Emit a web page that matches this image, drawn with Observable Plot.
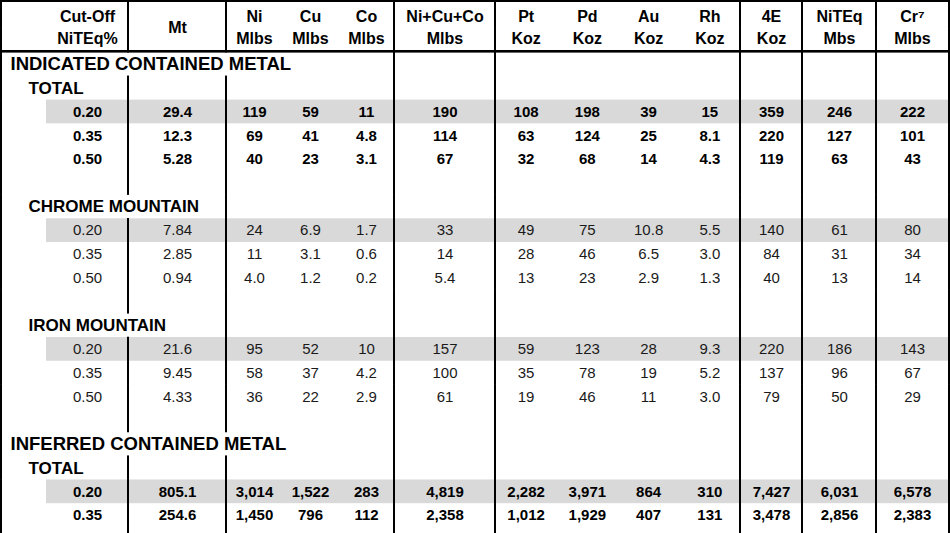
<!DOCTYPE html>
<html>
<head>
<meta charset="utf-8">
<script src="https://cdn.jsdelivr.net/npm/d3@7"></script>
<script src="https://cdn.jsdelivr.net/npm/@observablehq/plot@0.6"></script>
<style>
  html, body { margin: 0; padding: 0; background: #fff; }
  #chart svg { display: block; }
</style>
</head>
<body>
<div id="chart"></div>
<script>
// ---------- DATA ----------
const headerTop    = ["Cut-Off", "Mt", "Ni", "Cu", "Co", "Ni+Cu+Co", "Pt", "Pd", "Au", "Rh", "4E", "NiTEq", "Cr⁷"];
const headerBottom = ["NiTEq%", "", "Mlbs", "Mlbs", "Mlbs", "Mlbs", "Koz", "Koz", "Koz", "Koz", "Koz", "Mbs", "Mlbs"];
const cutoffs = ["0.20", "0.35", "0.50"];

// Mt, Ni, Cu, Co, Ni+Cu+Co, Pt, Pd, Au, Rh, 4E, NiTEq, Cr
const indicatedTotal = [
  ["29.4", "119", "59", "11", "190", "108", "198", "39", "15", "359", "246", "222"],
  ["12.3", "69", "41", "4.8", "114", "63", "124", "25", "8.1", "220", "127", "101"],
  ["5.28", "40", "23", "3.1", "67", "32", "68", "14", "4.3", "119", "63", "43"]
];
const indicatedChrome = [
  ["7.84", "24", "6.9", "1.7", "33", "49", "75", "10.8", "5.5", "140", "61", "80"],
  ["2.85", "11", "3.1", "0.6", "14", "28", "46", "6.5", "3.0", "84", "31", "34"],
  ["0.94", "4.0", "1.2", "0.2", "5.4", "13", "23", "2.9", "1.3", "40", "13", "14"]
];
const indicatedIron = [
  ["21.6", "95", "52", "10", "157", "59", "123", "28", "9.3", "220", "186", "143"],
  ["9.45", "58", "37", "4.2", "100", "35", "78", "19", "5.2", "137", "96", "67"],
  ["4.33", "36", "22", "2.9", "61", "19", "46", "11", "3.0", "79", "50", "29"]
];
const inferredTotal = [
  ["805.1", "3,014", "1,522", "283", "4,819", "2,282", "3,971", "864", "310", "7,427", "6,031", "6,578"],
  ["254.6", "1,450", "796", "112", "2,358", "1,012", "1,929", "407", "131", "3,478", "2,856", "2,383"]
];
const sectionTitles = ["INDICATED CONTAINED METAL", "INFERRED CONTAINED METAL"];
const groupNames = [["TOTAL", "CHROME MOUNTAIN", "IRON MOUNTAIN"], ["TOTAL"]];
const groupValues = [[indicatedTotal, indicatedChrome, indicatedIron], [inferredTotal]];
const groupBold = [[true, false, false], [true]];

// ---------- LAYOUT ----------
const layout = {
  width: 950, height: 533,
  rowH: 23.74, firstRowCenter: 64,
  colEdges: [46, 128, 226, 282, 338, 394, 495, 556.25, 617.5, 678.75, 740, 802, 876, 948],
  dividers: [1, 128, 226, 394, 495, 740, 802, 876, 949],
  lineW: 2,
  topLine: [0, 2], headLine: [50, 52.6],
  bandLeft: 46, bandRight: 948,
  titleX: 10, groupX: 28,
  titleSize: 18.5, groupSize: 17, headSize: 16, valueSize: 15,
  font: "'Liberation Sans', Arial, Helvetica, sans-serif",
  ink: "#000", band: "#d9d9d9"
};
const centers = d3.pairs(layout.colEdges).map(([a, b]) => (a + b) / 2);

// ---------- BUILD TABLE ROWS ----------
const cells = [];      // {row, col, text, bold}
const labels = [];     // {row, text, kind}
const shaded = [];     // row ids
let r = 0;
sectionTitles.forEach((title, s) => {
  if (s > 0) r++; // blank row before a new section
  labels.push({row: "r" + r, text: title, kind: "title"}); r++;
  groupNames[s].forEach((name, g) => {
    if (g > 0) r++; // blank row between groups
    labels.push({row: "r" + r, text: name, kind: "group"}); r++;
    groupValues[s][g].forEach((vals, k) => {
      const row = "r" + r;
      if (k === 0) shaded.push(row);
      cells.push({row, col: 0, text: cutoffs[k], bold: groupBold[s][g]});
      vals.forEach((v, j) => cells.push({row, col: j + 1, text: v, bold: groupBold[s][g]}));
      r++;
    });
  });
});
const rowIds = ["h1", "h2", ...d3.range(r + 1).map(i => "r" + i)];
const rowH = layout.rowH;
const yTop = layout.firstRowCenter - 2.5 * rowH;   // top of first header band

// measure label widths to hide dividers under overflowing labels (spreadsheet style)
const ctx = document.createElement("canvas").getContext("2d");
const labelFont = k => k === "title" ? layout.titleSize : layout.groupSize;
const hidden = new Set();
labels.forEach(l => {
  ctx.font = `bold ${labelFont(l.kind)}px ${layout.font}`;
  const x0 = l.kind === "title" ? layout.titleX : layout.groupX;
  const x1 = x0 + ctx.measureText(l.text).width;
  layout.dividers.forEach(x => { if (x > x0 - 2 && x < x1 + 2) hidden.add(x + "|" + l.row); });
});
const segments = [];
layout.dividers.forEach(x => rowIds.forEach(row => {
  if (!hidden.has(x + "|" + row)) segments.push({x, row});
}));

const headers = headerTop.map((t, i) => ({col: i, top: t, bottom: headerBottom[i]}));
const hw = layout.lineW / 2;

const plot = Plot.plot({
  width: layout.width,
  height: layout.height,
  margin: 0,
  x: {type: "linear", domain: [0, layout.width], range: [0, layout.width], axis: null},
  y: {type: "band", domain: rowIds, range: [yTop, yTop + rowIds.length * rowH], padding: 0, round: false, axis: null},
  style: {fontFamily: layout.font, background: "#fff", color: layout.ink, overflow: "hidden"},
  marks: [
    // shaded 0.20 rows
    Plot.barX(shaded, {x1: layout.bandLeft, x2: layout.bandRight, y: d => d, fill: layout.band}),
    // vertical dividers (one segment per row band)
    Plot.barX(segments.filter(d => d.row !== "h1"), {x1: d => d.x - hw, x2: d => d.x + hw, y: "row", fill: layout.ink, insetTop: -0.3, insetBottom: -0.3}),
    Plot.barX(segments.filter(d => d.row === "h1"), {x1: d => d.x - hw, x2: d => d.x + hw, y: "row", fill: layout.ink, insetTop: layout.topLine[0] - yTop, insetBottom: -0.3}),
    // top border and header underline
    Plot.barX(["h1"], {x1: 0, x2: layout.width, y: d => d, fill: layout.ink,
      insetTop: layout.topLine[0] - yTop, insetBottom: yTop + rowH - layout.topLine[1]}),
    Plot.barX(["h2"], {x1: 0, x2: layout.width, y: d => d, fill: layout.ink,
      insetTop: layout.headLine[0] - (yTop + rowH), insetBottom: yTop + 2 * rowH - layout.headLine[1]}),
    // headers
    Plot.text(headers.filter(d => d.bottom !== ""), {x: d => centers[d.col], y: () => "h1", text: "top", fontWeight: "bold", fontSize: layout.headSize}),
    Plot.text(headers.filter(d => d.bottom !== ""), {x: d => centers[d.col], y: () => "h2", text: "bottom", fontWeight: "bold", fontSize: layout.headSize, dy: -2}),
    Plot.text(headers.filter(d => d.bottom === ""), {x: d => centers[d.col], y: () => "h1", text: "top", fontWeight: "bold", fontSize: layout.headSize, dy: rowH / 2 - 1}),
    // section and group labels
    Plot.text(labels.filter(d => d.kind === "title"), {x: layout.titleX, y: "row", text: "text", textAnchor: "start", fontWeight: "bold", fontSize: layout.titleSize}),
    Plot.text(labels.filter(d => d.kind === "group"), {x: layout.groupX, y: "row", text: "text", textAnchor: "start", fontWeight: "bold", fontSize: layout.groupSize}),
    // values
    Plot.text(cells.filter(d => d.bold), {x: d => centers[d.col], y: "row", text: "text", fontWeight: "bold", fontSize: layout.valueSize}),
    Plot.text(cells.filter(d => !d.bold), {x: d => centers[d.col], y: "row", text: "text", fontSize: layout.valueSize, fill: "#1a1a1a"})
  ]
});
document.getElementById("chart").appendChild(plot);
</script>
</body>
</html>
